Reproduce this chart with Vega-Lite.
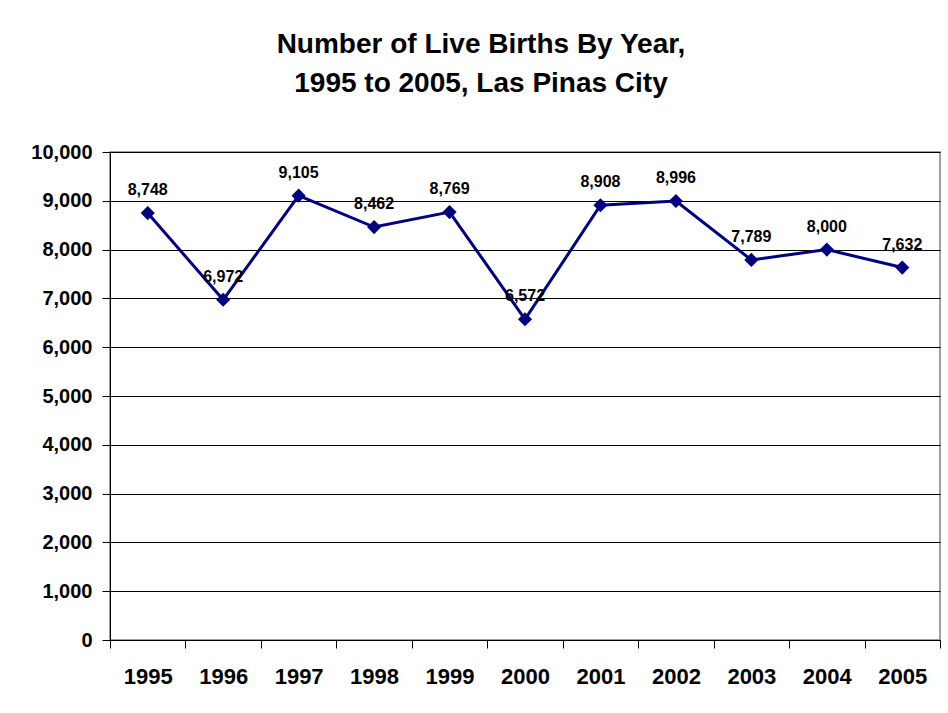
{
  "$schema": "https://vega.github.io/schema/vega-lite/v6.json",
  "autosize": {"type": "none"},
  "width": 830,
  "height": 488,
  "padding": {"left": 110, "top": 152, "right": 8, "bottom": 73},
  "background": "white",
  "title": {
    "text": ["Number of Live Births By Year,", "1995 to 2005, Las Pinas City"],
    "font": "Liberation Sans",
    "fontSize": 28,
    "fontWeight": "bold",
    "color": "black",
    "lineHeight": 39,
    "anchor": "middle",
    "frame": "group",
    "offset": 44,
    "dx": -44
  },
  "data": {
    "values": [
      {"year": "1995", "births": 8748},
      {"year": "1996", "births": 6972},
      {"year": "1997", "births": 9105},
      {"year": "1998", "births": 8462},
      {"year": "1999", "births": 8769},
      {"year": "2000", "births": 6572},
      {"year": "2001", "births": 8908},
      {"year": "2002", "births": 8996},
      {"year": "2003", "births": 7789},
      {"year": "2004", "births": 8000},
      {"year": "2005", "births": 7632}
    ]
  },
  "encoding": {
    "x": {
      "field": "year",
      "type": "ordinal",
      "scale": {"type": "band", "paddingInner": 0, "paddingOuter": 0},
      "axis": {
        "title": null,
        "labelAngle": 0,
        "tickBand": "extent",
        "grid": false,
        "domainColor": "black",
        "tickColor": "black",
        "tickSize": 8,
        "labelPadding": 18,
        "labelFont": "Liberation Sans",
        "labelFontSize": 22,
        "labelFontWeight": "bold",
        "labelColor": "black"
      }
    },
    "y": {
      "field": "births",
      "type": "quantitative",
      "scale": {"domain": [0, 10000], "nice": false, "zero": true},
      "axis": {
        "title": null,
        "values": [0, 1000, 2000, 3000, 4000, 5000, 6000, 7000, 8000, 9000, 10000],
        "format": ",d",
        "grid": true,
        "gridColor": "black",
        "gridOpacity": 1,
        "gridWidth": 1,
        "domainColor": "black",
        "tickColor": "black",
        "tickSize": 8,
        "labelPadding": 10,
        "labelFont": "Liberation Sans",
        "labelFontSize": 20,
        "labelFontWeight": "bold",
        "labelColor": "black"
      }
    }
  },
  "layer": [
    {
      "mark": {"type": "line", "color": "#000080", "strokeWidth": 3}
    },
    {
      "mark": {"type": "point", "shape": "diamond", "filled": true, "color": "#000080", "size": 200, "opacity": 1}
    },
    {
      "mark": {"type": "text", "dy": -18, "baseline": "alphabetic", "font": "Liberation Sans", "fontSize": 16, "fontWeight": "bold", "color": "black"},
      "encoding": {"text": {"field": "births", "type": "quantitative", "format": ",d"}}
    }
  ],
  "config": {
    "view": {"stroke": "#808080", "strokeWidth": 1.5}
  }
}
